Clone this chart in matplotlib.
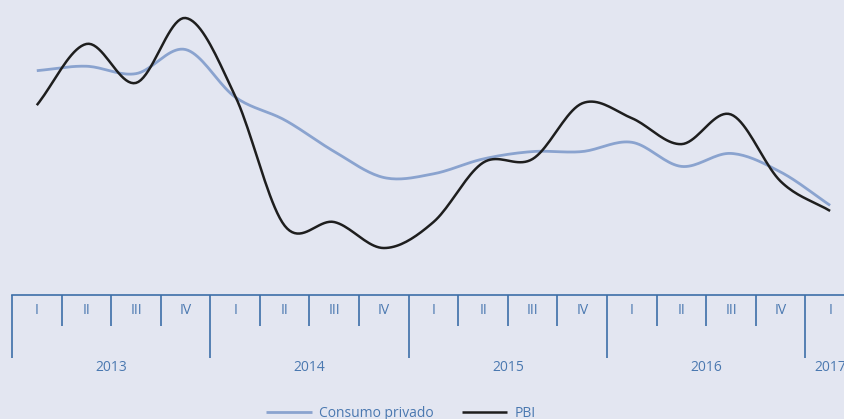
import numpy as np
import matplotlib.pyplot as plt
import matplotlib.transforms as mtransforms

plt.rcParams['font.family'] = ['Open Sans', 'DejaVu Sans']

# Quarterly data (var. % interanual), Q1 2013 - Q1 2017
quarters = ['I', 'II', 'III', 'IV'] * 4 + ['I']
years = ['2013', '2014', '2015', '2016', '2017']
consumo = [5.78, 5.9, 5.7, 6.35, 5.07, 4.45, 3.6, 2.9, 3.0, 3.4, 3.6, 3.6,
           3.85, 3.2, 3.55, 3.05, 2.15]
pbi = [4.85, 6.5, 5.45, 7.2, 5.1, 1.6, 1.7, 1.0, 1.7, 3.3, 3.4, 4.9,
       4.5, 3.8, 4.6, 2.8, 2.0]

BG = '#E3E6F1'
AXC = '#3D6FA8'
TXT = '#4A78B0'


def smooth(y, n=20):
    # Catmull-Rom spline through the points (smoothed line style)
    y = np.asarray(y, dtype=float)
    p = np.concatenate([[2 * y[0] - y[1]], y, [2 * y[-1] - y[-2]]])
    xs, ys = [], []
    t = np.linspace(0, 1, n, endpoint=False)
    for i in range(1, len(p) - 2):
        p0, p1, p2, p3 = p[i - 1], p[i], p[i + 1], p[i + 2]
        seg = 0.5 * ((2 * p1) + (-p0 + p2) * t +
                     (2 * p0 - 5 * p1 + 4 * p2 - p3) * t ** 2 +
                     (-p0 + 3 * p1 - 3 * p2 + p3) * t ** 3)
        xs.append(i - 1 + t)
        ys.append(seg)
    xs.append([len(y) - 1])
    ys.append([y[-1]])
    return np.concatenate(xs), np.concatenate(ys)


fig = plt.figure(figsize=(8.44, 4.19), dpi=100, facecolor=BG)
ax = fig.add_axes([12 / 844, 1 - 295 / 419, 1 - 12 / 844, 295 / 419])
ax.set_facecolor(BG)

xc, yc = smooth(consumo)
xp, yp = smooth(pbi)
ax.plot(xc, yc, color='#8AA3CF', lw=2.0, label='Consumo privado', solid_capstyle='butt')
ax.plot(xp, yp, color='#1E1E1E', lw=1.8, label='PBI', solid_capstyle='butt')

for s in ['top', 'right', 'left']:
    ax.spines[s].set_visible(False)
ax.spines['bottom'].set_color(AXC)
ax.spines['bottom'].set_linewidth(1.2)
ax.set_yticks([])

n = len(quarters)
bounds = np.arange(n + 1) - 0.5
ax.set_xticks(bounds[::4])
ax.set_xticks(bounds, minor=True)
ax.tick_params(axis='x', which='major', length=45.5, width=1.2, color=AXC,
               direction='out', labelbottom=False)
ax.tick_params(axis='x', which='minor', length=22.5, width=1.2, color=AXC,
               direction='out')
ax.set_xticklabels([], minor=True)

ax.set_xlim(-0.5, 16.28)
ax.set_ylim(-0.266, 7.685)

trans = mtransforms.blended_transform_factory(ax.transData, ax.transAxes)
for i, q in enumerate(quarters):
    ax.annotate(q, xy=(i, 0), xycoords=trans, xytext=(0, -11),
                textcoords='offset points', ha='center', va='center',
                fontsize=10, color=TXT, annotation_clip=False)
for k, yr in enumerate(years):
    xpos = min(4 * k + 1.5, n - 1)
    ax.annotate(yr, xy=(xpos, 0), xycoords=trans, xytext=(0, -52),
                textcoords='offset points', ha='center', va='center',
                fontsize=10, color=TXT, annotation_clip=False)

fig.legend(loc='center', bbox_to_anchor=(401 / 844, 1 - 413 / 419), ncol=2,
           frameon=False, fontsize=10, labelcolor=TXT, handlelength=3.3,
           columnspacing=2.0, handletextpad=0.5)

plt.savefig('out.png', dpi=100, facecolor=BG)
